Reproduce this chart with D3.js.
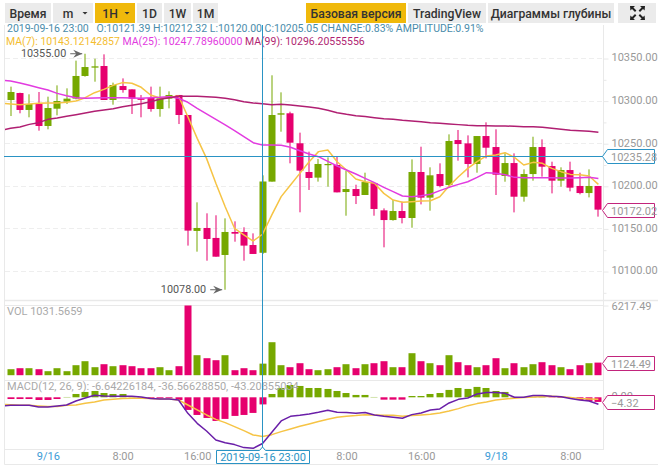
<!DOCTYPE html>
<html>
<head>
<meta charset="utf-8">
<script src="https://d3js.org/d3.v7.min.js"></script>
<style>
html, body { margin: 0; padding: 0; background: #fff; }
svg { display: block; }
text { font-family: Roboto, sans-serif; }
.btn text { font-size: 12.2px; font-weight: 500; fill: #333; }
.axis path { display: none; }
.axis line { stroke: #e8e8e8; }
.axis text { fill: #999; font-size: 11px; font-family: Roboto, sans-serif; }
</style>
</head>
<body>
<svg id="chart" width="658" height="469"></svg>
<script>
// one candle per hour, first (clipped) one is 2019-09-15 19:00
var firstHour = Date.UTC(2019, 8, 15, 19);

var opens = [10309,10300.7,10308.9,10289,10296,10270.2,10290.5,10298.8,10302.3,10328.9,10338.7,10340.6,10300.7,10317.1,10313.2,10302.3,10303.1,10290.1,10302.3,10306.6,10283.1,10147,10150.5,10138.8,10118.8,10145.8,10145.8,10130.5,10121.39,10204.9,10283.5,10285.1,10249.9,10216.2,10209.6,10224.4,10224.4,10192.7,10196.2,10189.2,10203.3,10171.2,10159.8,10170.4,10162.2,10216.2,10186.1,10213.8,10200.9,10253.7,10249.8,10225.6,10258.4,10245.5,10211.5,10226.7,10187.2,10213.8,10245.5,10223.2,10206,10218.5,10199.8,10191.5,10199.8];
var closes = [10301.6,10310.1,10289,10296,10270.2,10291.3,10299.5,10302.3,10328.9,10339.4,10340.2,10300.7,10318.3,10312.4,10302.3,10301.9,10290.1,10302.7,10306.6,10283.1,10147.4,10150.5,10137.6,10116.8,10145.8,10143.8,10129.8,10120,10205.05,10283.1,10285.1,10250.6,10217.8,10209.2,10225.6,10225.6,10192.3,10196.2,10188,10204.4,10172.8,10159.8,10170.4,10162.2,10216.2,10186.1,10212.3,10199.8,10252.6,10249,10225.6,10258.4,10244.7,10213,10226.7,10187.2,10213.8,10245.5,10222.4,10206,10218.5,10197.8,10191.5,10199.8,10172.02];
var highs = [10312,10316.4,10309.3,10307.4,10310.1,10304.6,10317.9,10314.4,10346.9,10355,10349.2,10354.3,10321.1,10326.1,10313.2,10306.6,10316.4,10316.4,10310.9,10306.6,10283.1,10180.6,10167.7,10165.4,10161.8,10158.3,10151.3,10144.2,10212.32,10329.7,10309.7,10287,10262.4,10240.1,10231.5,10233.4,10234.2,10217.7,10201.3,10215.4,10204,10173.5,10183.3,10181.4,10231,10245.9,10221.7,10226.4,10260.4,10265.5,10259.2,10258.4,10274.5,10266.3,10238.1,10238.1,10219.3,10257.6,10254.5,10228.3,10221.7,10228.3,10215.4,10219.3,10199.8];
var lows = [10298,10281.9,10285.1,10280.4,10264.7,10266.3,10282.7,10296,10301.5,10328.1,10322.2,10300.7,10295.2,10309.3,10284.3,10280.4,10287,10281.1,10290.9,10272.5,10129.8,10122.7,10112.1,10116.8,10078,10134.4,10112.1,10120,10120,10204.9,10263.5,10226.4,10168.9,10195.1,10204.9,10199,10192.3,10164.9,10178.6,10189.2,10164.9,10127.8,10159.1,10155.9,10150.8,10178.2,10170.8,10198.2,10199,10229.5,10209.9,10215.4,10232.2,10189.2,10204.8,10168.8,10181.4,10206,10210.7,10191.1,10199,10193.5,10190,10186.4,10163.8];

var ma7 = [10296.8,10296,10295.2,10296,10296.8,10297.2,10297.2,10298,10299.5,10303.4,10309.3,10313.2,10317.9,10321.1,10320.3,10315.6,10306.6,10303.1,10303.8,10305.4,10281.1,10255.7,10232.2,10202.9,10175.5,10150.1,10142.3,10135.2,10143.12,10165.8,10187.3,10201,10214.6,10228.3,10240.1,10242,10228.3,10218.5,10208,10204.8,10202.9,10191.1,10183.3,10180.6,10181.4,10182.1,10182.5,10187.2,10199.8,10210.7,10220.5,10228.3,10235,10236.1,10238.9,10233.4,10224.4,10227.5,10226.4,10220.5,10216.6,10213.4,10213,10211.5,10201.7];
var ma25 = [10324.2,10323,10320.7,10317.9,10315.2,10312.4,10308.5,10305.8,10303.4,10302.7,10303.1,10303.4,10303.4,10303.4,10303.1,10302.7,10303.4,10303.8,10304.6,10302.7,10298,10290.9,10284.3,10278,10271.4,10264.7,10257.7,10250.6,10247.79,10247.9,10247.5,10245.2,10241.2,10237.3,10234.2,10228.7,10223.2,10218.5,10213.8,10208.7,10203.7,10198.2,10193.1,10188,10187.2,10188.4,10190,10194.3,10198.2,10201.7,10204.8,10209.9,10215.4,10214.6,10213,10209.9,10209.5,10209.5,10209.5,10209.5,10209.1,10209.1,10209.5,10209.9,10208.7];
var ma99 = [10265.1,10267.5,10269,10272.1,10274.1,10278,10279.6,10281.5,10283.5,10285.4,10287.4,10289,10290.5,10292.9,10294.5,10296.4,10298.7,10301.5,10303.4,10305,10305,10305,10304.6,10303.8,10302.7,10301.1,10298.7,10297.2,10296.2,10295.2,10295.6,10294.8,10293.7,10292.5,10290.9,10288.6,10285.8,10283.9,10282.3,10281.2,10280,10278.8,10278,10276.8,10276.1,10275.3,10274.1,10273.3,10272.5,10271.8,10271,10270.6,10270.6,10270.2,10270.2,10269.8,10269.4,10269.4,10268.6,10267.5,10266.3,10265.1,10264.7,10263.9,10262.8];

var volumes = [1249,535,624,624,535,357,624,357,892,1249,714,981,803,892,803,624,624,714,446,803,6217.49,1784,1516,1338,1784,446,624,446,1031.57,2943,892,714,1070,535,446,535,714,981,624,981,1070,1249,714,714,1962,1249,1070,892,1784,1160,892,714,892,1516,624,1070,714,981,1160,892,714,535,892,1070,1124.49];

var macdHist = [-2.5,-1.6,-1.6,-1.6,-2.5,-2.5,-1.6,0.3,3.1,5,5.9,4,3.1,3.1,0.6,0.3,-0.9,-0.9,-0.9,-2.5,-11.8,-16.5,-19.3,-22.1,-20.2,-17.4,-16.5,-14.6,-6.64,3.1,8.7,11.5,10.6,8.7,8.7,7.8,5.9,4,2.2,2.2,0.3,-2.2,-2.2,-2.2,1.2,1.2,3.1,4,6.9,8.7,7.8,9.7,8.7,5.9,5,0.3,0.3,0.3,0.3,-0.3,-0.5,-0.6,-2.5,-3.4,-4.32];
var macdDif = [-8.1,-7.5,-7.5,-7.5,-9,-9,-8.1,-7.2,-3.4,-0.6,1.9,1.2,0.9,0.9,0.9,0.3,-1.2,-1.6,-1.6,-2.5,-15,-24.3,-31.5,-39.9,-42.4,-44.2,-47,-47.7,-43.21,-32.7,-22.1,-17.8,-16.8,-15.6,-14,-12.1,-14,-14.3,-15,-14.3,-16.5,-17.8,-18.7,-19.6,-16.2,-14.6,-11.8,-10.9,-5.3,-1.9,-0.6,3.1,4.4,4.4,3.7,0,0,1.6,1.6,0.9,0.6,-1.2,-2.5,-3.4,-6.5];
var macdDea = [-6.5,-6.9,-7.5,-7.5,-8.1,-8.7,-8.7,-7.5,-7.2,-5.6,-4.4,-2.5,-1.9,-1.2,-0.9,-0.9,-1.2,-1.6,-1.6,-2.5,-7.2,-11.8,-16.5,-20.6,-23.7,-27.4,-31.2,-35.2,-36.57,-34.9,-32.1,-29.6,-27.1,-24.9,-22.7,-20.6,-18.7,-17.8,-17.1,-16.2,-16.5,-16.8,-16.8,-17.8,-17.1,-16.5,-15.9,-14.6,-12.8,-10.6,-7.8,-5.9,-4.4,-2.5,-1.6,-0.9,-0.3,0.3,0.6,0.9,0.6,-0.3,-1.2,-1.6,-1.9];

var priceTicks = [10350, 10300, 10250, 10200, 10150, 10100];
var priceMinorTicks = [10325, 10275, 10225, 10175, 10125, 10075];
var timeTicks = [Date.UTC(2019,8,16,0), Date.UTC(2019,8,16,8), Date.UTC(2019,8,16,16), Date.UTC(2019,8,17,8), Date.UTC(2019,8,17,16), Date.UTC(2019,8,18,0), Date.UTC(2019,8,18,8)];

var infoLine = "2019-09-16 23:00   O:10121.39 H:10212.32 L:10120.00 C:10205.05 CHANGE:0.83% AMPLITUDE:0.91%";
var ma7Label = "MA(7): 10143.12142857 ";
var ma25Label = "MA(25): 10247.78960000 ";
var ma99Label = "MA(99): 10296.20555556";
var volLabel = "VOL 1031.5659";
var macdLabel = "MACD(12, 26, 9): -6.64226184, -36.56628850, -43.20855034";
var leftButtons = ["Время", "m", "1H", "1D", "1W", "1M"];
var leftButtonX = [5, 53, 95, 137, 164, 193, 218];
var rightButtons = ["Базовая версия", "TradingView", "Диаграммы глубины"];
var rightButtonX = [306, 408, 488, 616];

var cursorIndex = 28, lastIndex = opens.length - 1;
var GREEN = "#76a800", PINK = "#e6006e", BLUE = "#2a93c4", TAGPINK = "#c2247c";
var YELLOW = "#f6c445", MAGENTA = "#e23be0", DARKPINK = "#b01f72", PURPLE = "#6a1fa8";

var svg = d3.select("#chart");

function hourAt(i){ return new Date(firstHour + i * 3600000); }

var x = d3.scaleUtc().domain([hourAt(0), hourAt(64)]).range([1.26, 598.4]);
var y = d3.scaleLinear().domain([10350, 10100]).range([58, 271]);
var yVol = d3.scaleLinear().domain([0, 6217.49]).range([375.2, 305.5]);
var yMacd = d3.scaleLinear().domain([0, -40]).range([397.3, 440.1]);
var barW = 7;

function isUp(i){ return closes[i] >= opens[i]; }
function xi(i){ return x(hourAt(i)); }

/* ---- toolbar ---- */
function button(parent, x0, x1, label, active){
	var g = parent.append("g").attr("class", "btn");
	g.append("rect").attr("x", x0).attr("y", 3).attr("width", x1 - x0).attr("height", 20)
		.attr("fill", active ? "#f0b90b" : "#ebebeb");
	g.append("text").attr("x", (x0 + x1) / 2).attr("y", 17.5).attr("text-anchor", "middle").text(label);
	return g;
}
var bar = svg.append("g");
leftButtons.forEach(function(label, i){
	var g = button(bar, leftButtonX[i], i == leftButtons.length - 1 ? leftButtonX[i+1] : leftButtonX[i+1] - 2, label, label == "1H");
	if (label == "m" || label == "1H") {
		g.select("text").attr("x", leftButtonX[i] + 15);
		// little dropdown caret
		var cx = leftButtonX[i+1] - 10;
		g.append("path").attr("d", "M" + (cx-2.5) + ",12 h5 l-2.5,2.5 z").attr("fill", "#333");
	}
});
rightButtons.forEach(function(label, i){
	button(bar, rightButtonX[i], rightButtonX[i+1] - 2, label, i == 0);
});
bar.append("rect").attr("x", 618).attr("y", 3).attr("width", 38).attr("height", 20).attr("fill", "#ebebeb");
// fullscreen icon, four arrows
[[630,6,1,1],[645,6,-1,1],[630,20,1,-1],[645,20,-1,-1]].forEach(function(c){
	bar.append("path")
		.attr("d", "M" + c[0] + "," + c[1] + " h" + (5*c[2]) + " l" + (-1.6*c[2]) + "," + (1.6*c[3]) + " l" + (3*c[2]) + "," + (3*c[3]) + " l" + (-1.4*c[2]) + "," + (1.4*c[3]) + " l" + (-3*c[2]) + "," + (-3*c[3]) + " l" + (-1.6*c[2]) + "," + (1.6*c[3]) + " z")
		.attr("fill", "#222");
});

/* ---- frame ---- */
var frame = svg.append("g").attr("stroke", "#e9e9e9").attr("fill", "none");
frame.append("path").attr("d", "M4.5,25 V464.5 H658");
frame.append("path").attr("d", "M603.5,25 V449.5");
frame.append("path").attr("d", "M4,300.5 H658").attr("stroke-width", 1.5);
frame.append("path").attr("d", "M4,305.5 H604");
frame.append("path").attr("d", "M4,380.5 H604");
frame.append("path").attr("d", "M4,449.5 H604");

/* ---- grid and axes ---- */
svg.append("g").selectAll("line").data(priceTicks).enter().append("line")
	.attr("x1", 5).attr("x2", 604)
	.attr("y1", function(d){ return Math.round(y(d)) + 0.5; })
	.attr("y2", function(d){ return Math.round(y(d)) + 0.5; })
	.attr("stroke", "#eeeeee").attr("stroke-dasharray", "5,3");

var priceAxis = d3.axisRight(y).tickValues(priceTicks).tickFormat(d3.format(".2f")).tickSize(5).tickPadding(3);
var priceG = svg.append("g").attr("class", "axis").attr("transform", "translate(603.5,0.5)").call(priceAxis);
priceG.selectAll("text").attr("dy", "0.22em");
var minorAxis = d3.axisRight(y).tickValues(priceMinorTicks).tickFormat("").tickSize(3);
svg.append("g").attr("class", "axis").attr("transform", "translate(603.5,0.5)").call(minorAxis);

var volAxis = d3.axisRight(yVol).tickValues([6217.49]).tickFormat(d3.format(".2f")).tickSize(5).tickPadding(3);
svg.append("g").attr("class", "axis").attr("transform", "translate(603.5,0)").call(volAxis);
var macdAxis = d3.axisRight(yMacd).tickValues([0]).tickFormat(d3.format(".2f")).tickSize(5).tickPadding(3);
svg.append("g").attr("class", "axis").attr("transform", "translate(603.5,-1)").call(macdAxis);

var timeAxis = d3.axisBottom(x).tickValues(timeTicks.map(function(t){ return new Date(t); })).tickSize(0).tickPadding(3)
	.tickFormat(function(d){
		return d.getUTCHours() == 0 ? d3.utcFormat("%-m/%-d")(d) : d3.utcFormat("%-H:00")(d);
	});
var timeG = svg.append("g").attr("class", "axis").attr("transform", "translate(0,449)").call(timeAxis);
timeG.selectAll("text").style("fill", function(d){ return d.getUTCHours() == 0 ? "#3b9bd6" : "#999"; });

/* ---- plots, clipped to the panel ---- */
var defs = svg.append("defs");
defs.append("clipPath").attr("id", "plot").append("rect").attr("x", 5).attr("y", 25).attr("width", 599).attr("height", 425);
var plot = svg.append("g").attr("clip-path", "url(#plot)");

var idx = d3.range(opens.length);

var candles = plot.append("g").selectAll("g").data(idx).enter().append("g")
	.attr("fill", function(i){ return isUp(i) ? GREEN : PINK; });
candles.append("rect")
	.attr("x", function(i){ return Math.round(xi(i)) - 0.5; })
	.attr("width", 1)
	.attr("y", function(i){ return y(highs[i]); })
	.attr("height", function(i){ return y(lows[i]) - y(highs[i]); });
candles.append("rect")
	.attr("x", function(i){ return Math.round(xi(i)) - barW / 2; })
	.attr("width", barW)
	.attr("y", function(i){ return y(Math.max(opens[i], closes[i])); })
	.attr("height", function(i){ return Math.max(1.2, Math.abs(y(opens[i]) - y(closes[i]))); });

function line(yScale){
	return d3.line().x(function(d, i){ return xi(i); }).y(function(d){ return yScale(d); });
}
function drawLine(data, yScale, color, w){
	plot.append("path").datum(data).attr("d", line(yScale))
		.attr("fill", "none").attr("stroke", color).attr("stroke-width", w).attr("stroke-linejoin", "round");
}
drawLine(ma7, y, YELLOW, 1.5);
drawLine(ma25, y, MAGENTA, 1.5);
drawLine(ma99, y, DARKPINK, 1.5);

// volume bars
plot.append("g").selectAll("rect").data(idx).enter().append("rect")
	.attr("x", function(i){ return Math.round(xi(i)) - barW / 2; })
	.attr("width", barW)
	.attr("y", function(i){ return yVol(volumes[i]); })
	.attr("height", function(i){ return yVol(0) - yVol(volumes[i]); })
	.attr("fill", function(i){ return isUp(i) ? GREEN : PINK; });

// macd histogram + lines
plot.append("g").selectAll("rect").data(idx).enter().append("rect")
	.attr("x", function(i){ return Math.round(xi(i)) - barW / 2; })
	.attr("width", barW)
	.attr("y", function(i){ return yMacd(Math.max(0, macdHist[i])); })
	.attr("height", function(i){ return Math.abs(yMacd(macdHist[i]) - yMacd(0)); })
	.attr("fill", function(i){ return macdHist[i] >= 0 ? GREEN : PINK; });
drawLine(macdDea, yMacd, YELLOW, 1.5);
drawLine(macdDif, yMacd, PURPLE, 1.5);

/* ---- legends ---- */
svg.append("text").attr("x", 7).attr("y", 32).attr("font-size", 10.5).attr("fill", "#4a8cab").style("white-space", "pre").text(infoLine);
var maText = svg.append("text").attr("x", 6).attr("y", 45).attr("font-size", 10.5).style("white-space", "pre");
maText.append("tspan").attr("fill", "#f4bd2f").text(ma7Label);
maText.append("tspan").attr("fill", MAGENTA).text(ma25Label);
maText.append("tspan").attr("fill", DARKPINK).text(ma99Label);

svg.append("text").attr("x", 7).attr("y", 315).attr("font-size", 11).attr("fill", "#aaa").text(volLabel);
svg.append("text").attr("x", 7).attr("y", 390).attr("font-size", 11).attr("fill", "#aaa").text(macdLabel);

/* ---- high / low markers ---- */
function marker(i, value){
	var ty = y(value), tip = xi(i) - 3;
	svg.append("text").attr("x", tip - 16).attr("y", ty + 3.5).attr("text-anchor", "end").attr("font-size", 10.8).attr("fill", "#555").text(value.toFixed(2));
	svg.append("path").attr("d", "M" + (tip-12) + "," + ty + " H" + tip).attr("stroke", "#666").attr("stroke-width", 1);
	svg.append("path").attr("d", "M" + tip + "," + ty + " L" + (tip-9) + "," + (ty-4) + " L" + (tip-6) + "," + ty + " L" + (tip-9) + "," + (ty+4) + " Z").attr("fill", "#666");
}
marker(d3.greatest(idx, function(i){ return highs[i]; }), d3.max(highs));
marker(d3.least(idx, function(i){ return lows[i]; }), d3.min(lows));

/* ---- crosshair ---- */
var hairPrice = 10235.28;
var hx = Math.floor(xi(cursorIndex)) + 0.5, hy = Math.round(y(hairPrice)) + 0.5;
svg.append("line").attr("x1", hx).attr("x2", hx).attr("y1", 25).attr("y2", 450).attr("stroke", BLUE);
svg.append("line").attr("x1", 4).attr("x2", 603).attr("y1", hy).attr("y2", hy).attr("stroke", BLUE);

function tag(yPos, label, color){
	var t = yPos - 7, b = yPos + 7;
	svg.append("path").attr("d", "M602.5," + yPos + " L607.5," + t + " H654.5 V" + b + " H607.5 Z")
		.attr("fill", "#fff").attr("stroke", color);
	svg.append("text").attr("x", 611).attr("y", yPos + 4).attr("font-size", 11).attr("fill", "#999").text(label);
}
tag(hy, d3.format(".2f")(hairPrice), BLUE);
tag(Math.round(y(closes[lastIndex])) + 0.5, d3.format(".2f")(closes[lastIndex]), TAGPINK);
tag(Math.round(yVol(volumes[lastIndex])) + 0.5, d3.format(".2f")(volumes[lastIndex]), TAGPINK);
tag(Math.round(yMacd(macdHist[lastIndex])) + 0.5, d3.format(".2f")(macdHist[lastIndex]), TAGPINK);

// time label under the crosshair
svg.append("path").attr("d", "M216.5,450.5 H" + (hx-3) + " L" + hx + ",447 L" + (hx+3) + ",450.5 H309.5 V463.5 H216.5 Z")
	.attr("fill", "#fff").attr("stroke", BLUE);
svg.append("text").attr("x", 263).attr("y", 460.5).attr("text-anchor", "middle").attr("font-size", 11).attr("fill", BLUE)
	.text(d3.utcFormat("%Y-%m-%d %H:%M")(hourAt(cursorIndex)));
</script>
</body>
</html>
